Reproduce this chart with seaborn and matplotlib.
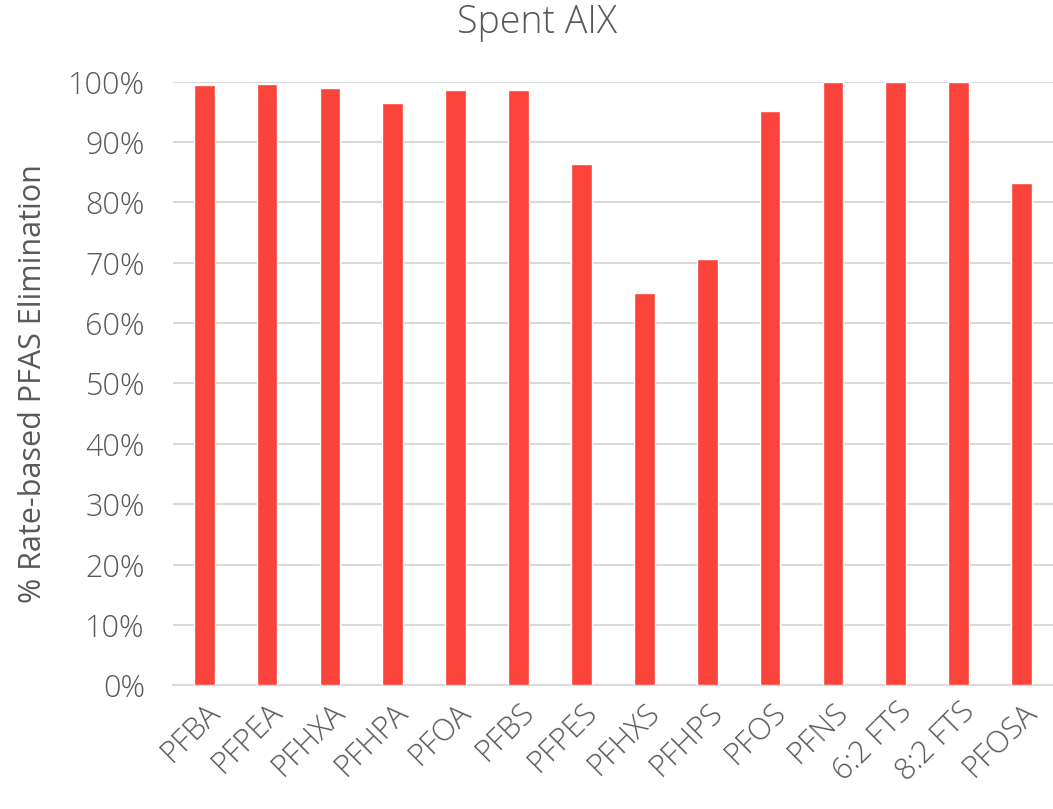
import pandas as pd
import seaborn as sns
import matplotlib.pyplot as plt
from matplotlib.ticker import PercentFormatter, MultipleLocator

# --- Data ---
compounds = ["PFBA", "PFPEA", "PFHXA", "PFHPA", "PFOA", "PFBS", "PFPES",
             "PFHXS", "PFHPS", "PFOS", "PFNS", "6:2 FTS", "8:2 FTS", "PFOSA"]
elimination = [99.5, 99.7, 98.9, 96.4, 98.6, 98.6, 86.3,
               65.0, 70.6, 95.1, 100.0, 100.0, 100.0, 83.2]

BAR_COLOR = "#FA433B"
TEXT_COLOR = "#595959"
GRID_COLOR = "#D9D9D9"

df = pd.DataFrame({"compound": compounds, "elimination": elimination})

sns.set_style("white")
plt.rcParams["font.family"] = ["Open Sans", "DejaVu Sans"]
plt.rcParams["font.weight"] = "light"

fig = plt.figure(figsize=(10.53, 8.09), dpi=100)
ax = fig.add_axes([0.164, 0.153, 0.836, 0.746])

sns.barplot(data=df, x="compound", y="elimination", color=BAR_COLOR,
            width=0.33, saturation=1, ax=ax, zorder=3)

ax.set_ylim(0, 100)
ax.set_xlim(-0.5, len(compounds) - 0.5)
ax.yaxis.set_major_locator(MultipleLocator(10))
ax.yaxis.set_major_formatter(PercentFormatter(decimals=0))
ax.grid(axis="y", color=GRID_COLOR, linewidth=1.5, zorder=0)
ax.set_axisbelow(True)

for side in ["top", "right", "left"]:
    ax.spines[side].set_visible(False)
ax.spines["bottom"].set_color(GRID_COLOR)
ax.spines["bottom"].set_linewidth(1.5)

ax.tick_params(axis="both", length=0, colors=TEXT_COLOR, labelsize=22)
ax.tick_params(axis="y", pad=20)
ax.tick_params(axis="x", pad=8)
plt.setp(ax.get_xticklabels(), rotation=45, ha="right", rotation_mode="anchor")

ax.set_xlabel("")
ax.set_ylabel("% Rate-based PFAS Elimination", fontsize=22, color=TEXT_COLOR, labelpad=14)
fig.text(0.51, 0.972, "Spent AIX", fontsize=27, color=TEXT_COLOR,
         ha="center", va="center")

fig.savefig("out.png", dpi=100)
